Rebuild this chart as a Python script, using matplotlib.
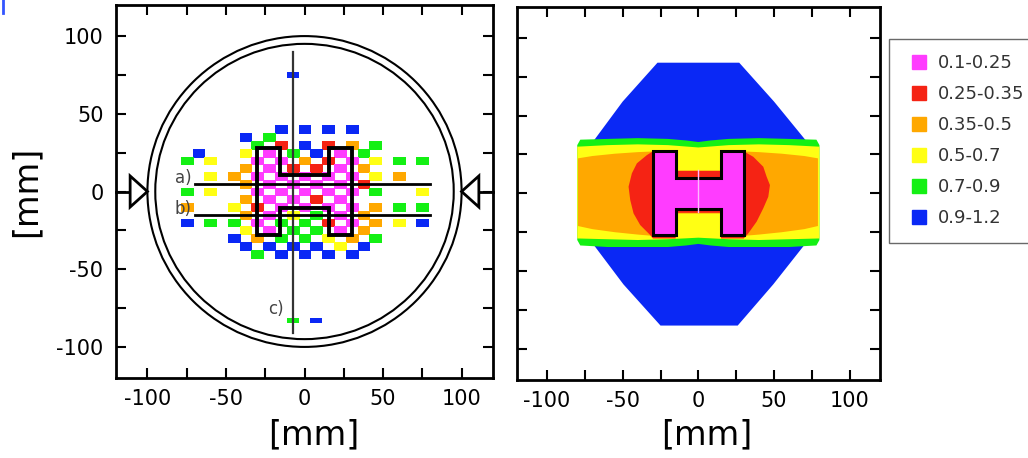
import numpy as np
import matplotlib
matplotlib.use("Agg")
import matplotlib.pyplot as plt
from matplotlib.colors import ListedColormap, BoundaryNorm
from matplotlib.lines import Line2D
from matplotlib.patches import Circle, Polygon

plt.rcParams['font.family'] = ['DejaVu Sans']
plt.rcParams['axes.unicode_minus'] = False

# ---------------- data ----------------
levels = ["0.1-0.25", "0.25-0.35", "0.35-0.5", "0.5-0.7", "0.7-0.9", "0.9-1.2"]
level_codes = ["M", "R", "O", "Y", "G", "B"]
level_colors = ["#ff3cff", "#f52314", "#ffa800", "#ffff14", "#14f014", "#0a28f5"]

# measurement grid (left panel): column x positions [mm], row y positions [mm]
grid_x = [-75, -67.5, -60, -52.5, -45, -37.5, -30, -22.5, -15, -7.5, 0,
          7.5, 15, 22.5, 30, 37.5, 45, 52.5, 60, 67.5, 75]
grid_y = [40, 35, 30, 25, 20, 15, 10, 5, 0, -5, -10, -15, -20, -25, -30, -35, -40]
grid_rows = [
    "........B.B.B.B......",
    ".....B.G.............",
    "......G.R.B.R.O.G....",
    ".B...Y.M.G.B.M.G.....",
    "G.Y...M.M.O.R.M.Y.G.G",
    ".....O.M.R.R.M.O.....",
    "..Y.O.M.M.M.M.M.Y.O..",
    ".....O.M.M.M.M.R.....",
    "G.Y...M.M.M.M.M.G...Y",
    ".....O.M.M.R.M.......",
    "O...Y.R.M.M.M.M.O.G.G",
    ".....O.M.Y.G.M.O.....",
    "B.G.G.M.G.G.R.M.O.Y.B",
    ".....Y.M.G.G.M.O.....",
    "....B.O.G.G.Y.O.G....",
    ".....B.B.B.B.Y.B.....",
    "......G.B.B.B.B......",
]
# isolated far points (left panel)
stray_x = [-7.5, -7.5, 7.5]
stray_y = [75, -83, -83]
stray_cat = ["B", "G", "B"]

# H-shaped object outline [mm]
h_left_x = [-30, -15.5, -15.5, 15.5, 15.5, 30, 30, 15.5, 15.5, -15.5, -15.5, -30]
h_left_y = [28, 28, 10.5, 10.5, 28, 28, -28, -28, -10.5, -10.5, -28, -28]
h_right_x = [-30, -15, -15, 15, 15, 30, 30, 15, 15, -15, -15, -30]
h_right_y = [27.5, 27.5, 10, 10, 27.5, 27.5, -27, -27, -10, -10, -27, -27]

# profile lines
line_a_x = [-70, 80]; line_a_y = [5, 5]
line_b_x = [-70, 80]; line_b_y = [-15, -15]
line_c_x = [-7.5, -7.5]; line_c_y = [-91, 90]

# circles (phantom outline)
circle_radii = [100, 95]

# right panel: region boundaries [mm]
blue_x = [-27, 27, 50, 71, 71, 49.5, 26, -25, -49.5, -70, -69, -50]
blue_y = [84, 84, 59, 34, -32, -58.5, -85, -85, -58.5, -32, 34, 59]

green_x = [-80, -78, -60, -40, -20, -8, 0, 8, 20, 40, 60, 78, 80,
           80, 78, 60, 40, 20, 8, 0, -8, -20, -40, -60, -78, -80]
green_y = [31, 34.5, 35, 35.5, 35, 34, 33, 34, 35, 35.5, 35, 34.5, 31,
           -30, -33.5, -34.5, -34.5, -34.5, -33.5, -32.5, -33.5, -34.5, -34.5, -34.5, -33.5, -30]

yellow_x = [-80, -60, -40, -20, 0, 20, 40, 60, 80, 80, 60, 40, 20, 0, -20, -40, -60, -80]
yellow_y = [30, 31, 31.5, 31, 29.5, 31, 31.5, 31, 30,
            -29, -29.5, -30, -29.5, -28.5, -29.5, -30, -29.5, -29]

orange_x = [-79.5, -70, -55, -40, -28, -15, -15, 15, 15, 28, 40, 55, 70, 79,
            79, 70, 55, 40, 28, 15, 15, -15, -15, -28, -40, -55, -70, -79.5]
orange_y = [22.5, 24, 25.5, 26.5, 27, 27, 14.5, 14.5, 27, 27, 26.5, 25.5, 24, 22.5,
            -21, -23, -25, -26.5, -27.5, -27.5, -13, -13, -27.5, -27.5, -26.5, -25, -23, -21]

red_x = [-30, -34, -40.6, -43.9, -46.1, -45, -42.8, -38.4, -31.8, -30, -15, -15, 15, 15,
         30, 33, 38.5, 42.9, 46.2, 47.3, 45.1, 42.9, 36.3, 30, 15, 15, -15, -15]
red_y = [27, 24.6, 19.3, 12.9, 4.3, -4.3, -12.9, -20.4, -26.8, -29, -29, -12.5, -12.5, -29,
         -29, -25.7, -18.2, -9.6, -2.2, 5.3, 10.7, 17.1, 23.5, 27, 27, 14.5, 14.5, 27]

# faint seam inside the H (right panel)
seam_x = [0, 0]
seam_y = [15, -12]

# ---------------- figure ----------------
W, H = 1028, 458
fig = plt.figure(figsize=(W / 100, H / 100), dpi=100)
ax1 = fig.add_axes([116 / W, 1 - 378 / H, 377 / W, 373 / H])
ax2 = fig.add_axes([516.7 / W, 1 - 380 / H, 363.3 / W, 373.3 / H])

cmap = ListedColormap(level_colors)
norm = BoundaryNorm(np.arange(-0.5, len(level_codes) + 0.5, 1), cmap.N)

# left panel grid
vals = np.full((len(grid_y), len(grid_x)), np.nan)
for i, row in enumerate(grid_rows):
    assert len(row) == len(grid_x)
    for j, ch in enumerate(row):
        if ch in level_codes:
            vals[i, j] = level_codes.index(ch)
X, Y = np.meshgrid(grid_x, grid_y)
ax1.pcolormesh(X, Y, np.ma.masked_invalid(vals), cmap=cmap, norm=norm,
               shading='nearest', edgecolors='face', linewidth=0.7, zorder=1)

ax1.bar(stray_x, [3.5] * len(stray_x), width=7.5,
        bottom=[v - 1.75 for v in stray_y],
        color=[level_colors[level_codes.index(c)] for c in stray_cat], zorder=1)

for r in circle_radii:
    ax1.add_patch(Circle((0, 0), r, fill=False, ec='black', lw=1.5, zorder=3))

ax1.plot(line_c_x, line_c_y, color='#333333', lw=1.6, zorder=4)
ax1.plot(line_a_x, line_a_y, color='black', lw=2, zorder=4)
ax1.plot(line_b_x, line_b_y, color='black', lw=2, zorder=4)
ax1.add_patch(Polygon(np.column_stack([h_left_x, h_left_y]), closed=True,
                      fill=False, ec='black', lw=2.8, zorder=5))

# arrows
ax1.plot([-120, -111], [0, 0], color='black', lw=2, zorder=4, clip_on=False)
ax1.add_patch(Polygon([(-111, 10), (-111, -10), (-100, 0)], closed=True,
                      fc='white', ec='black', lw=2, zorder=5))
ax1.plot([111, 120], [0, 0], color='black', lw=2, zorder=4, clip_on=False)
ax1.add_patch(Polygon([(111, 10), (111, -10), (100, 0)], closed=True,
                      fc='white', ec='black', lw=2, zorder=5))

ax1.text(-72, 8.5, "a)", ha='right', va='center', fontsize=12, color='#444444', zorder=6)
ax1.text(-72, -11.5, "b)", ha='right', va='center', fontsize=12, color='#444444', zorder=6)
ax1.text(-13.5, -75.5, "c)", ha='right', va='center', fontsize=12, color='#444444', zorder=6)

# right panel regions
for xs, ys, c in [(blue_x, blue_y, level_colors[5]),
                  (green_x, green_y, level_colors[4]),
                  (yellow_x, yellow_y, level_colors[3]),
                  (orange_x, orange_y, level_colors[2]),
                  (red_x, red_y, level_colors[1])]:
    ax2.fill(xs, ys, color=c, lw=0, zorder=1)
ax2.fill(h_right_x, h_right_y, fc=level_colors[0], ec='black', lw=2.2, zorder=2)
ax2.plot(seam_x, seam_y, color='#ffb8ff', lw=1, zorder=3)

# axes styling
for ax in (ax1, ax2):
    ax.set_xlim(-120, 120)
    ax.set_ylim(-120, 120)
    ax.set_xticks([-100, -50, 0, 50, 100])
    ax.set_yticks([-100, -50, 0, 50, 100])
    ax.set_xticks([-75, -25, 25, 75], minor=True)
    ax.set_yticks([-75, -25, 25, 75], minor=True)
    ax.tick_params(which='both', direction='in', length=7, width=1.5,
                   top=True, right=True, labelsize=15, colors='black')
    ax.tick_params(axis='x', pad=8)
    ax.tick_params(axis='y', pad=9)
    for s in ax.spines.values():
        s.set_linewidth(2)
    ax.set_xlabel("[mm]", fontsize=24)

ax2.tick_params(labelleft=False)
ax1.set_ylabel("[mm]", fontsize=24)
ax1.yaxis.set_label_coords(-0.196, 0.5)
ax1.xaxis.set_label_coords(0.524, -0.108)
ax2.xaxis.set_label_coords(0.523, -0.103)

handles = [Line2D([], [], ls='none', marker='s', markersize=9.5,
                  markerfacecolor=c, markeredgecolor=c) for c in level_colors]
leg = fig.legend(handles, levels, loc='upper left',
                 bbox_to_anchor=(889 / W, 1 - 39 / H), fontsize=13,
                 frameon=True, fancybox=False, handlelength=1.6,
                 handletextpad=0.25, labelspacing=0.72, borderpad=0.85,
                 borderaxespad=0)
leg.get_frame().set_edgecolor('#444444')
leg.get_frame().set_linewidth(1.0)
for t in leg.get_texts():
    t.set_color('#333333')

fig.add_artist(Line2D([3 / W, 3 / W], [1, 1 - 13 / H], color='#3355ff', lw=2))

fig.savefig("out.png", dpi=100)
